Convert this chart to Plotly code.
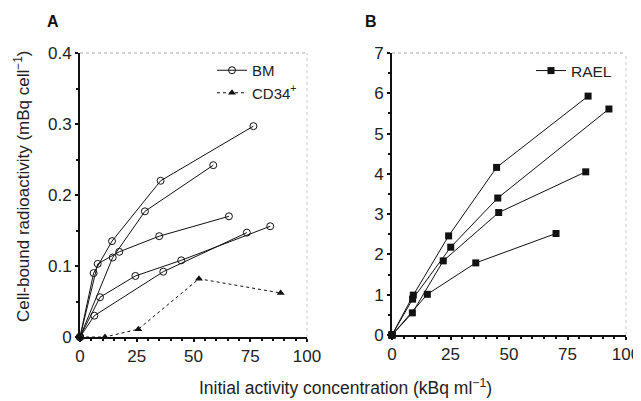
import plotly.graph_objects as go

# Panel A, BM curves (kBq/ml vs mBq/cell)
bm_x = [
    [0, 6.0, 14.1, 35.5, 76.4],
    [0, 14.4, 28.6, 58.7],
    [0, 7.8, 17.3, 34.9, 65.6],
    [0, 8.8, 24.4, 44.6, 83.8],
    [0, 6.3, 36.7, 73.5],
]
bm_y = [
    [0, 0.090, 0.135, 0.220, 0.297],
    [0, 0.112, 0.177, 0.242],
    [0, 0.103, 0.120, 0.142, 0.170],
    [0, 0.056, 0.086, 0.108, 0.156],
    [0, 0.030, 0.092, 0.147],
]
# Panel A, CD34+ curve
cd34_x = [0, 11.0, 25.7, 52.4, 88.4]
cd34_y = [0, 0.0, 0.011, 0.082, 0.062]

# Panel B, RAEL curves
rael_x = [
    [0, 9.1, 24.2, 44.7, 83.8],
    [0, 8.8, 25.1, 45.2, 92.7],
    [0, 8.7, 21.9, 45.6, 82.8],
    [0, 15.1, 35.8, 70.1],
]
rael_y = [
    [0, 0.99, 2.46, 4.16, 5.93],
    [0, 0.89, 2.18, 3.40, 5.61],
    [0, 0.55, 1.84, 3.04, 4.05],
    [0, 1.01, 1.79, 2.52],
]

# page body has an 8px margin, so the figure is a bit smaller than the window
W, H = 633, 393
FONT = "Liberation Sans, Arial, sans-serif"

fig = go.Figure()

for i, (xs, ys) in enumerate(zip(bm_x, bm_y)):
    fig.add_trace(go.Scatter(
        x=xs, y=ys, name="BM", legendgroup="bm", showlegend=(i == 0),
        mode="lines+markers", cliponaxis=False,
        line=dict(color="#111", width=1),
        marker=dict(symbol="circle-open", size=7, color="#111", line=dict(width=1)),
        xaxis="x", yaxis="y", legend="legend",
    ))

fig.add_trace(go.Scatter(
    x=cd34_x, y=cd34_y, name="CD34<sup>+</sup>",
    mode="lines+markers", cliponaxis=False,
    line=dict(color="#111", width=1, dash="dot"),
    marker=dict(symbol="triangle-up", size=7, color="#111"),
    xaxis="x", yaxis="y", legend="legend",
))

for i, (xs, ys) in enumerate(zip(rael_x, rael_y)):
    fig.add_trace(go.Scatter(
        x=xs, y=ys, name="RAEL", legendgroup="rael", showlegend=(i == 0),
        mode="lines+markers", cliponaxis=False,
        line=dict(color="#111", width=1),
        marker=dict(symbol="square", size=7, color="#111"),
        xaxis="x2", yaxis="y2", legend="legend2",
    ))

axis_common = dict(
    showgrid=False, zeroline=False, showline=True, linecolor="#111", linewidth=2,
    ticks="outside", ticklen=3, tickwidth=1.5, tickcolor="#111",
    tickfont=dict(family=FONT, size=17, color="#222"),
    minor=dict(ticks="outside", ticklen=2, tickcolor="#111"),
    automargin=False,
)

fig.update_layout(
    width=W, height=H,
    margin=dict(l=0, r=0, t=0, b=0),
    paper_bgcolor="white", plot_bgcolor="white",
    font=dict(family=FONT, color="#222"),
    xaxis=dict(axis_common, domain=[72 / W, 299 / W], range=[0, 100],
               tickvals=[0, 25, 50, 75, 100], minor_dtick=5, anchor="y"),
    yaxis=dict(axis_common, domain=[1 - 329 / H, 1 - 45 / H], range=[0, 0.4],
               dtick=0.1, minor_dtick=0.05, anchor="x"),
    xaxis2=dict(axis_common, domain=[384 / W, 618 / W], range=[0, 100],
                tickvals=[0, 25, 50, 75, 100], minor_dtick=5, anchor="y2"),
    yaxis2=dict(axis_common, domain=[1 - 327 / H, 1 - 45 / H], range=[0, 7],
                dtick=1, minor_dtick=0.5, anchor="x2"),
    legend=dict(x=204 / W, y=1 - 46 / H, xanchor="left", yanchor="top",
                bgcolor="rgba(0,0,0,0)", itemwidth=30, tracegroupgap=0,
                font=dict(family=FONT, size=15, color="#222")),
    legend2=dict(x=523 / W, y=1 - 46 / H, xanchor="left", yanchor="top",
                 bgcolor="rgba(0,0,0,0)", itemwidth=30,
                 font=dict(family=FONT, size=15.5, color="#222")),
)

# faint dotted top / right frame lines
for xr, yr in (("x domain", "y domain"), ("x2 domain", "y2 domain")):
    fig.add_shape(type="line", xref=xr, yref=yr, x0=0, x1=1, y0=1, y1=1,
                  line=dict(color="#aaa", width=1, dash="dot"))
    fig.add_shape(type="line", xref=xr, yref=yr, x0=1, x1=1, y0=0, y1=1,
                  line=dict(color="#ccc", width=1, dash="dot"))

label_kw = dict(xref="paper", yref="paper", showarrow=False,
                xanchor="center", yanchor="middle")
fig.add_annotation(text="<b>A</b>", x=44.5 / W, y=1 - 13 / H,
                   font=dict(family=FONT, size=16, color="#111"), **label_kw)
fig.add_annotation(text="<b>B</b>", x=363.5 / W, y=1 - 13 / H,
                   font=dict(family=FONT, size=16, color="#111"), **label_kw)

fig.add_annotation(text="Cell-bound radioactivity (mBq cell<sup>−1</sup>)",
                   x=14 / W, y=1 - 178 / H, textangle=-90,
                   font=dict(family=FONT, size=17, color="#222"), **label_kw)
fig.add_annotation(text="Initial activity concentration (kBq ml<sup>−1</sup>)",
                   x=337.5 / W, y=1 - 379 / H,
                   font=dict(family=FONT, size=17.5, color="#222"), **label_kw)

fig.write_html("out.html")
